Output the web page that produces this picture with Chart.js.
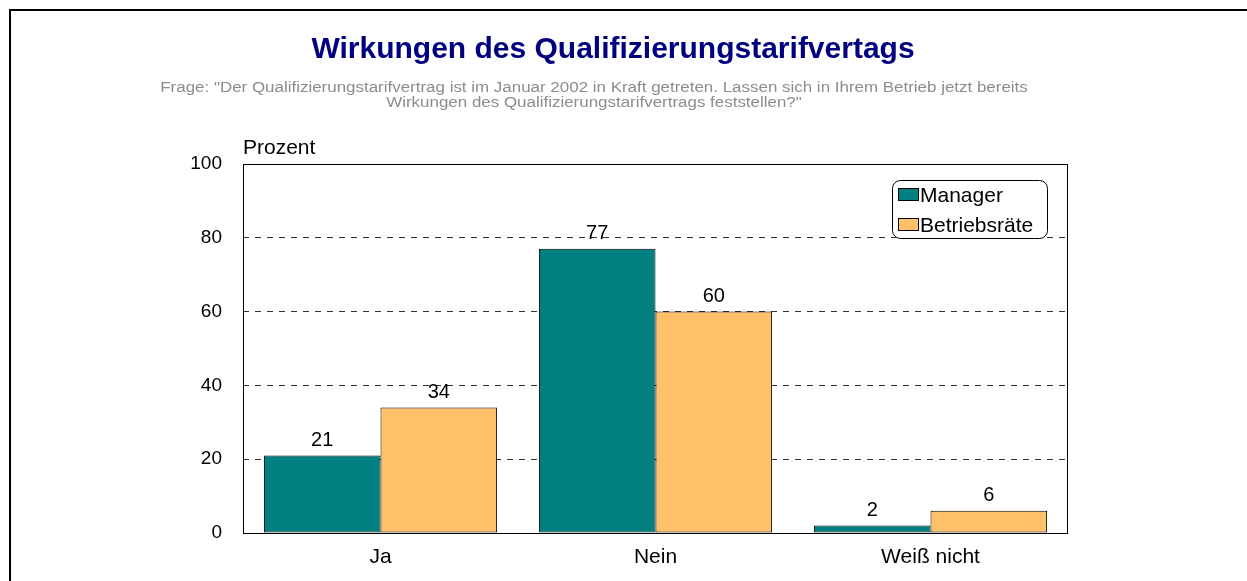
<!DOCTYPE html>
<html>
<head>
<meta charset="utf-8">
<script src="https://cdn.jsdelivr.net/npm/chart.js@4.4.1/dist/chart.umd.min.js"></script>
<style>
  html, body { margin: 0; padding: 0; background: #fff; overflow: hidden; }
  #wrap { position: relative; width: 1247px; height: 581px; }
  #frame { position: absolute; left: 9px; top: 9px; width: 1300px; height: 700px; border: 2px solid #000; }
  #chart { position: absolute; left: 0; top: 0; }
</style>
</head>
<body>
<div id="wrap">
  <div id="frame"></div>
  <canvas id="chart" width="1247" height="581"></canvas>
</div>
<script>
const kategorien = ['Ja', 'Nein', 'Weiß nicht'];
const manager = [21, 77, 2];
const betriebsraete = [34, 60, 6];
const yTicks = [0, 20, 40, 60, 80, 100];

const titel = 'Wirkungen des Qualifizierungstarifvertags';
const frage = [
    'Frage: "Der Qualifizierungstarifvertrag ist im Januar 2002 in Kraft getreten. Lassen sich in Ihrem Betrieb jetzt bereits',
    'Wirkungen des Qualifizierungstarifvertrags feststellen?"'
];
const achsenTitel = 'Prozent';

const FONT = "'Liberation Sans', Arial, sans-serif";

// Titel, Frage und Achsenbeschriftung
const textPlugin = {
    id: 'texte',
    afterDraw(chart) {
        const ctx = chart.ctx;
        ctx.save();
        ctx.textAlign = 'center';
        ctx.textBaseline = 'alphabetic';
        ctx.fillStyle = '#000080';
        ctx.font = 'bold 30px ' + FONT;
        ctx.fillText(titel, 613, 58);

        // Frage etwas in die Breite gezogen
        ctx.save();
        ctx.fillStyle = '#8c8c8c';
        ctx.font = '14px ' + FONT;
        ctx.translate(594, 0);
        ctx.scale(1.21, 1);
        ctx.fillText(frage[0], 0, 92);
        ctx.fillText(frage[1], 0, 107);
        ctx.restore();

        ctx.textAlign = 'left';
        ctx.fillStyle = '#000';
        ctx.font = '21px ' + FONT;
        ctx.fillText(achsenTitel, chart.chartArea.left, 154);
        ctx.restore();
    }
};

// Rahmen um die Zeichenfläche
const rahmenPlugin = {
    id: 'rahmen',
    afterDatasetsDraw(chart) {
        const { left, top, right, bottom } = chart.chartArea;
        const ctx = chart.ctx;
        ctx.save();
        ctx.strokeStyle = '#000';
        ctx.lineWidth = 1;
        ctx.strokeRect(left + 0.5, top + 0.5, right - left - 1, bottom - top);
        ctx.restore();
    }
};

// Werte über den Balken
const wertePlugin = {
    id: 'werte',
    afterDatasetsDraw(chart) {
        const ctx = chart.ctx;
        ctx.save();
        ctx.font = '20px ' + FONT;
        ctx.fillStyle = '#000';
        ctx.textAlign = 'center';
        ctx.textBaseline = 'alphabetic';
        chart.data.datasets.forEach((ds, i) => {
            chart.getDatasetMeta(i).data.forEach((bar, j) => {
                ctx.fillText(String(ds.data[j]), bar.x, bar.y - 10);
            });
        });
        ctx.restore();
    }
};

// Legende mit abgerundetem Rahmen
const legendePlugin = {
    id: 'legende',
    afterDraw(chart) {
        const ctx = chart.ctx;
        const x = 892.5, y = 180.5, w = 155, h = 58, r = 8;
        ctx.save();
        ctx.fillStyle = '#fff';
        ctx.strokeStyle = '#000';
        ctx.lineWidth = 1;
        ctx.beginPath();
        ctx.roundRect(x, y, w, h, r);
        ctx.fill();
        ctx.stroke();
        ctx.font = '21px ' + FONT;
        ctx.textBaseline = 'middle';
        ctx.textAlign = 'left';
        chart.data.datasets.forEach((ds, i) => {
            const cy = 195 + i * 30;
            ctx.fillStyle = ds.backgroundColor;
            ctx.fillRect(898.5, cy - 6.5, 20, 12);
            ctx.strokeRect(898.5, cy - 6.5, 20, 12);
            ctx.fillStyle = '#000';
            ctx.fillText(ds.label, 920, cy + 1);
        });
        ctx.restore();
    }
};

new Chart(document.getElementById('chart'), {
    type: 'bar',
    data: {
        labels: kategorien,
        datasets: [
            {
                label: 'Manager',
                data: manager,
                backgroundColor: '#008080',
                borderColor: '#000',
                borderWidth: 1,
                borderSkipped: false
            },
            {
                label: 'Betriebsräte',
                data: betriebsraete,
                backgroundColor: '#ffc06a',
                borderColor: '#000',
                borderWidth: 1,
                borderSkipped: false
            }
        ]
    },
    options: {
        responsive: false,
        animation: false,
        layout: { padding: { top: 164, right: 179, left: 0, bottom: 0 } },
        datasets: {
            bar: { categoryPercentage: 0.848, barPercentage: 1 }
        },
        plugins: {
            legend: { display: false },
            title: { display: false },
            tooltip: { enabled: false }
        },
        scales: {
            x: {
                grid: { display: false },
                border: { display: false },
                ticks: { color: '#000', font: { family: FONT, size: 21 }, padding: 4 },
                afterFit(scale) { scale.height = 48; }
            },
            y: {
                min: 0,
                max: 100,
                afterBuildTicks(scale) { scale.ticks = yTicks.map(v => ({ value: v })); },
                grid: {
                    drawTicks: false,
                    color: ctx => (ctx.tick && (ctx.tick.value === 0 || ctx.tick.value === 100)) ? 'rgba(0,0,0,0)' : '#333',
                    lineWidth: 1
                },
                border: { display: false, dash: [6, 6] },
                ticks: { color: '#000', font: { family: FONT, size: 19 }, padding: 21 },
                afterFit(scale) { scale.width = 243; }
            }
        }
    },
    plugins: [textPlugin, rahmenPlugin, wertePlugin, legendePlugin]
});
</script>
</body>
</html>
